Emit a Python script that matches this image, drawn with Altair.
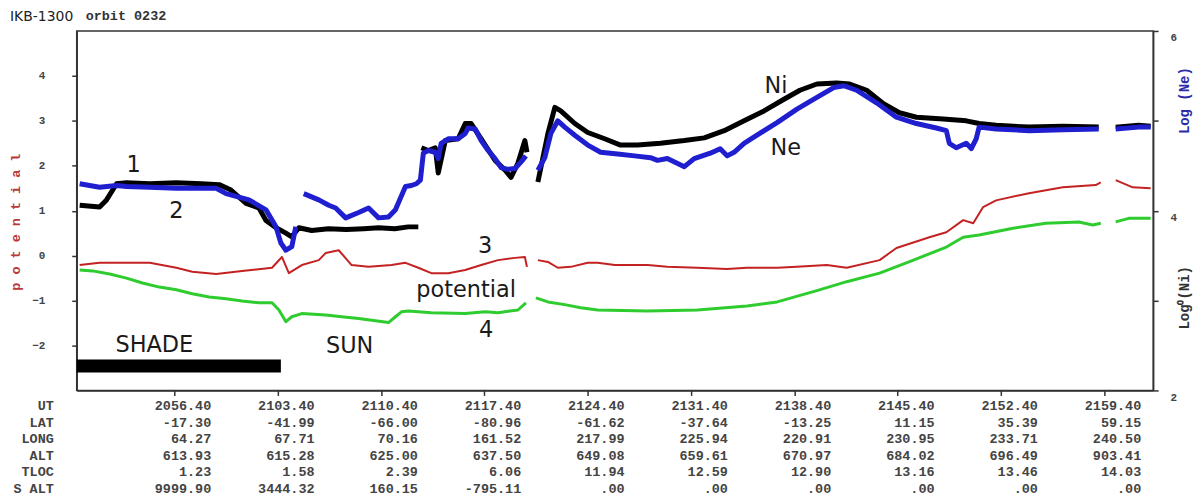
import altair as alt
import pandas as pd

# ---------------- data ----------------
ut_labels = ["2056.40", "2103.40", "2110.40", "2117.40", "2124.40",
             "2131.40", "2138.40", "2145.40", "2152.40", "2159.40"]
lat_labels = ["-17.30", "-41.99", "-66.00", "-80.96", "-61.62",
              "-37.64", "-13.25", "11.15", "35.39", "59.15"]
long_labels = ["64.27", "67.71", "70.16", "161.52", "217.99",
               "225.94", "220.91", "230.95", "233.71", "240.50"]
alt_labels = ["613.93", "615.28", "625.00", "637.50", "649.08",
              "659.61", "670.97", "684.02", "696.49", "903.41"]
tloc_labels = ["1.23", "1.58", "2.39", "6.06", "11.94",
               "12.59", "12.90", "13.16", "13.46", "14.03"]
salt_labels = ["9999.90", "3444.32", "160.15", "-795.11", ".00",
               ".00", ".00", ".00", ".00", ".00"]
row_names = ["UT", "LAT", "LONG", "ALT", "TLOC", "S ALT"]

# (minutes after 20:00 UT, value); None = gap in the record
ne_points = [  # log10(Ne), right axis
    (50.25, 4.30), (51.6, 4.26), (52.75, 4.28), (53.42, 4.27), (55.0, 4.26),
    (56.8, 4.25), (58.5, 4.25), (59.5, 4.25), (60.17, 4.19), (61.72, 4.12),
    (62.87, 4.01), (63.55, 3.82), (63.88, 3.64), (64.22, 3.56), (64.62, 3.60),
    (64.89, 3.82), None,
    (65.43, 4.19), (66.45, 4.12), (67.12, 4.06), (67.59, 4.03), (68.27, 3.92),
    (69.15, 3.98), (69.82, 4.03), (70.5, 3.92), (71.17, 3.93), (71.64, 4.01),
    (72.32, 4.27), (72.72, 4.28), (73.06, 4.30), (73.33, 4.34), (73.53, 4.64),
    (73.87, 4.67), (74.34, 4.65), (74.54, 4.58), (74.74, 4.75), (75.22, 4.80),
    (75.89, 4.80), (76.37, 4.86), (76.57, 4.92), (77.04, 4.91), (77.45, 4.78),
    (77.92, 4.67), (78.39, 4.58), (78.8, 4.48), (79.27, 4.46), (79.74, 4.47),
    (80.14, 4.54), (80.48, 4.61), None,
    (81.29, 4.45), (81.76, 4.59), (82.17, 4.86), (82.64, 5.00), (83.11, 4.93),
    (83.79, 4.84), (84.67, 4.73), (85.54, 4.65), (86.69, 4.63), (87.84, 4.61),
    (88.92, 4.59), (89.39, 4.56), (90.06, 4.58), (91.21, 4.49), (91.88, 4.58),
    (92.97, 4.64), (93.64, 4.69), (94.11, 4.61), (94.58, 4.65), (95.26, 4.75),
    (96.13, 4.84), (97.49, 4.98), (98.84, 5.13), (100.19, 5.26), (101.33, 5.37),
    (102.01, 5.39), (102.88, 5.34), (104.23, 5.20), (105.58, 5.04), (106.93, 4.97),
    (108.28, 4.92), (108.96, 4.89), (109.16, 4.75), (109.63, 4.70), (110.31, 4.75),
    (110.65, 4.69), (110.98, 4.80), (111.18, 4.93), (112.33, 4.91), (114.56, 4.89),
    (116.85, 4.90), (119.28, 4.91), None,
    (120.43, 4.91), (121.99, 4.93), (122.8, 4.93),
]

ni_points = [  # log10(Ni), right axis
    (50.25, 4.06), (51.6, 4.04), (52.07, 4.12), (52.75, 4.30), (53.42, 4.31),
    (55.0, 4.30), (56.8, 4.31), (58.5, 4.30), (59.7, 4.29), (60.5, 4.23),
    (61.52, 4.08), (62.4, 4.03), (62.87, 3.89), (63.55, 3.81), (64.22, 3.75),
    (64.62, 3.71), (65.1, 3.81), (65.97, 3.78), (67.1, 3.80), (68.3, 3.79),
    (69.5, 3.80), (70.5, 3.81), (71.6, 3.80), (72.5, 3.82), (73.19, 3.82), None,
    (73.4, 4.70), (73.87, 4.67), (74.34, 4.70), (74.54, 4.42), (75.02, 4.78),
    (75.89, 4.80), (76.37, 4.97), (76.77, 4.97), (77.45, 4.80), (78.39, 4.56),
    (79.07, 4.45), (79.47, 4.37), (79.94, 4.53), (80.41, 4.78), (80.55, 4.65), None,
    (81.29, 4.32), (81.97, 4.86), (82.44, 5.15), (82.84, 5.11), (83.79, 4.97),
    (84.67, 4.87), (85.81, 4.80), (86.89, 4.73), (88.04, 4.73), (89.59, 4.75),
    (91.21, 4.78), (92.56, 4.81), (93.91, 4.89), (95.26, 5.00), (96.61, 5.11),
    (97.96, 5.24), (99.04, 5.34), (100.19, 5.41), (101.53, 5.42), (102.41, 5.41),
    (103.56, 5.34), (104.7, 5.19), (105.78, 5.09), (106.93, 5.04), (108.75, 5.02),
    (110.31, 5.00), (111.18, 4.97), (112.33, 4.95), (114.56, 4.93), (116.85, 4.94),
    (119.28, 4.93), None,
    (120.43, 4.93), (121.99, 4.95), (122.8, 4.94),
]

pot_points = [  # potential (3), left axis
    (50.25, -0.21), (51.6, -0.16), (53.4, -0.16), (55.0, -0.16), (56.8, -0.27),
    (57.88, -0.36), (59.5, -0.41), (61.25, -0.34), (63.28, -0.27), (63.95, -0.03),
    (64.42, -0.39), (65.3, -0.21), (66.45, -0.10), (66.92, 0.06), (67.8, 0.12),
    (68.67, -0.21), (69.82, -0.25), (71.37, -0.21), (72.32, -0.16), (73.19, -0.27),
    (74.07, -0.39), (75.22, -0.39), (76.37, -0.32), (77.45, -0.21), (78.59, -0.10),
    (79.74, -0.05), (80.41, -0.03), (80.55, -0.25), None,
    (81.29, -0.10), (81.97, -0.14), (82.64, -0.27), (83.52, -0.25), (84.67, -0.16),
    (85.34, -0.16), (86.5, -0.21), (88.72, -0.21), (90.06, -0.25), (92.09, -0.27),
    (94.11, -0.30), (95.46, -0.27), (97.5, -0.27), (98.84, -0.25), (100.86, -0.21),
    (102.21, -0.27), (104.44, -0.10), (105.58, 0.17), (107.81, 0.41), (108.96, 0.52),
    (110.1, 0.79), (110.78, 0.72), (111.45, 1.08), (112.33, 1.23), (114.56, 1.39),
    (116.85, 1.52), (119.08, 1.57), (119.42, 1.63), None,
    (120.43, 1.68), (121.58, 1.52), (122.8, 1.50),
]

green_points = [  # trace 4, left axis
    (50.25, -0.32), (51.13, -0.34), (52.28, -0.41), (53.42, -0.50), (54.5, -0.61),
    (55.65, -0.70), (56.8, -0.76), (57.88, -0.85), (59.02, -0.92), (60.17, -0.96),
    (61.25, -1.01), (62.4, -1.05), (63.28, -1.05), (63.75, -1.21), (64.22, -1.47),
    (64.62, -1.36), (65.3, -1.29), (66.92, -1.32), (68.0, -1.36), (69.15, -1.40),
    (70.29, -1.45), (71.17, -1.49), (71.64, -1.36), (72.05, -1.25), (72.52, -1.23),
    (74.07, -1.27), (76.37, -1.29), (77.72, -1.25), (78.59, -1.27), (79.94, -1.21),
    (80.48, -1.05), None,
    (81.16, -0.94), (81.97, -1.03), (83.11, -1.09), (84.19, -1.16), (85.34, -1.21),
    (88.72, -1.23), (92.09, -1.21), (95.46, -1.12), (97.5, -1.03), (100.19, -0.78),
    (102.21, -0.58), (104.44, -0.39), (106.73, -0.10), (108.96, 0.19), (110.1, 0.41),
    (111.18, 0.46), (113.48, 0.61), (115.7, 0.72), (117.93, 0.75), (118.88, 0.68),
    (119.42, 0.72), None,
    (120.43, 0.75), (121.31, 0.83), (122.8, 0.83),
]

shade_interval = [50.05, 63.88]      # minutes after 20:00
shade_level = [-2.31, -2.60]         # potential-axis units

annotations = [  # text, minutes, potential-axis value (baseline)
    ("1", 53.9, 1.85), ("2", 56.8, 0.83), ("3", 77.72, 0.06),
    ("potential", 76.43, -0.92), ("4", 77.78, -1.80),
    ("Ni", 97.42, 3.63), ("Ne", 98.09, 2.23),
    ("SHADE", 55.31, -2.14), ("SUN", 68.54, -2.16),
]


# ---------------- helpers ----------------
def ut_to_min(s):
    hhmm, ss = s.split(".")
    return (int(hhmm[:2]) - 20) * 60 + int(hhmm[2:]) + int(ss) / 60.0


def to_df(points):
    rows, seg = [], 0
    for p in points:
        if p is None:
            seg += 1
            continue
        rows.append({"t": p[0], "v": p[1], "seg": seg})
    return pd.DataFrame(rows)


ut_min = [ut_to_min(s) for s in ut_labels]

MONO = "Liberation Mono"
SANS = "DejaVu Sans"
AX = "#333333"

x_enc = alt.X(
    "t:Q",
    scale=alt.Scale(domain=[50.05, 122.97], nice=False, zero=False),
    axis=alt.Axis(values=ut_min, labels=False, tickSize=5, grid=False, title=None,
                  domainColor=AX, tickColor=AX, domainWidth=1.5, tickWidth=1.5),
)

y_left = alt.Y(
    "v:Q",
    scale=alt.Scale(domain=[-3, 5], nice=False, zero=False),
    axis=alt.Axis(orient="left", values=[-2, -1, 0, 1, 2, 3, 4], tickSize=5,
                  labelPadding=27, grid=False, title=None, labelFont=MONO,
                  labelFontWeight="bold", labelFontSize=11, labelColor="#444",
                  domainColor=AX, tickColor=AX, domainWidth=1.5, tickWidth=1.5),
)

y_right = alt.Y(
    "v:Q",
    scale=alt.Scale(domain=[2, 6], nice=False, zero=False),
    axis=alt.Axis(orient="right", values=[2, 3, 4, 5, 6], tickSize=5,
                  labelExpr="datum.value % 2 == 0 ? datum.label : ''",
                  labelPadding=12, labelBaseline="top", labelOffset=1,
                  grid=False, title=None, labelFont=MONO, labelFontWeight="bold",
                  labelFontSize=11, labelColor="#444",
                  domainColor=AX, tickColor=AX, domainWidth=1.5, tickWidth=1.5),
)


def line(points, color, width, y):
    return alt.Chart(to_df(points)).mark_line(
        color=color, strokeWidth=width, strokeJoin="round", strokeCap="butt"
    ).encode(x=x_enc, y=y, detail="seg:N", order="t:Q")


green = line(green_points, "#2ecc2e", 3, y_left)
red = line(pot_points, "#c42222", 2, y_left)

shade = alt.Chart(pd.DataFrame({
    "t": [shade_interval[0]], "t2": [shade_interval[1]],
    "v": [shade_level[0]], "v2": [shade_level[1]],
})).mark_rect(color="black").encode(x=x_enc, x2="t2:Q", y=y_left, y2="v2:Q")

ann = alt.Chart(pd.DataFrame(annotations, columns=["txt", "t", "v"])).mark_text(
    font=SANS, fontSize=22.5, color="#1a1a1a", align="center", baseline="alphabetic"
).encode(x=x_enc, y=y_left, text="txt:N")

left_group = alt.layer(green, red, shade, ann)

black = line(ni_points, "#000000", 5, y_right)
blue = line(ne_points, "#1f1fd0", 5, y_right)
right_group = alt.layer(black, blue)

# table under the plot
table_values = [ut_labels, lat_labels, long_labels, alt_labels, tloc_labels, salt_labels]
trows = []
for name, vals in zip(row_names, table_values):
    for t, s in zip(ut_min, vals):
        trows.append({"t": t, "row": name, "txt": s})
table_df = pd.DataFrame(trows)

y_table = alt.Y("row:N", sort=row_names,
                scale=alt.Scale(type="point", domain=row_names, range=[377, 460], padding=0),
                axis=None)

table_txt = alt.Chart(table_df).mark_text(
    align="right", dx=37, baseline="middle", font=MONO, fontWeight="bold",
    fontSize=13.5, color="#444"
).encode(x=x_enc, y=y_table, text="txt:N")

row_txt = alt.Chart(pd.DataFrame({"row": row_names})).mark_text(
    align="right", baseline="middle", font=MONO, fontWeight="bold",
    fontSize=13.5, color="#444"
).encode(x=alt.value(-23), y=y_table, text="row:N")

table_group = alt.layer(table_txt, row_txt)

one = pd.DataFrame({"a": [0]})
title1 = alt.Chart(one).mark_text(
    text="IKB-1300", font=SANS, fontSize=14, color="#222", align="left", baseline="alphabetic"
).encode(x=alt.value(-67), y=alt.value(-10))
title2 = alt.Chart(one).mark_text(
    text="orbit 0232", font=MONO, fontSize=13.5, fontWeight="bold", color="#333",
    align="left", baseline="alphabetic"
).encode(x=alt.value(9), y=alt.value(-11))
pot_title = alt.Chart(one).mark_text(
    text="p o t e n t i a l", font=MONO, fontSize=13.5, fontWeight="bold",
    color="#b83a3a", angle=270, align="center", baseline="middle"
).encode(x=alt.value(-61), y=alt.value(192))
ne_title = alt.Chart(one).mark_text(
    text="Log (Ne)", font=MONO, fontSize=14, fontWeight="bold",
    color="#2c2ca8", angle=270, align="center", baseline="middle"
).encode(x=alt.value(1113), y=alt.value(70))
ni_title = alt.Chart(one).mark_text(
    text="Log\u2070(Ni)", font=MONO, fontSize=14, fontWeight="bold",
    color="#333", angle=270, align="center", baseline="middle"
).encode(x=alt.value(1113), y=alt.value(268))

chart = alt.layer(
    left_group, right_group, table_group, title1, title2, pot_title, ne_title, ni_title
).resolve_scale(y="independent").properties(
    width=1081, height=361,
    padding={"left": 69, "top": 22, "right": 40, "bottom": 112},
    autosize=alt.AutoSizeParams(type="none"),
    background="white",
).configure_view(stroke=AX, strokeWidth=1.5)

chart.save("out.html", embed_options={"renderer": "svg", "actions": False})
